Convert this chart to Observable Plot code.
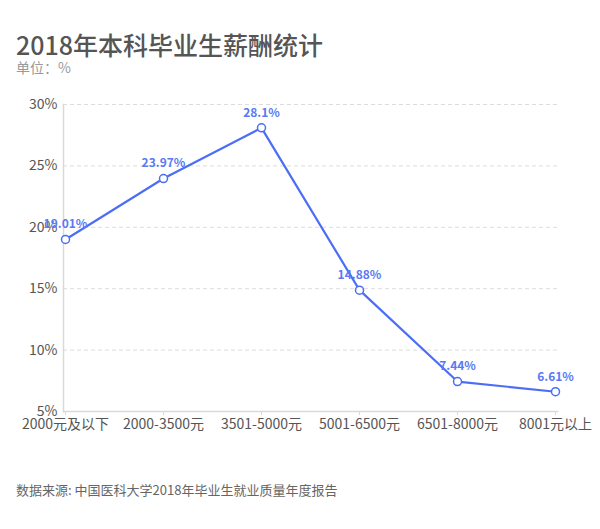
<!DOCTYPE html>
<html>
<head>
<meta charset="utf-8">
<script src="https://cdn.jsdelivr.net/npm/d3@7"></script>
<script src="https://cdn.jsdelivr.net/npm/@observablehq/plot@0.6"></script>
<style>
  html, body { margin: 0; padding: 0; background: #fff; }
  body { width: 600px; height: 529px; position: relative; font-family: "Noto Sans CJK SC", "Noto Sans", sans-serif; overflow: hidden; }
  #header { position: relative; height: 84px; }
  #title { position: absolute; left: 16px; top: 32px; font-size: 25px; line-height: 24px; font-weight: 500; color: #555; white-space: nowrap; }
  #subtitle { position: absolute; left: 16px; top: 60px; font-size: 14px; line-height: 15px; color: #999; white-space: nowrap; }
  #caption { position: absolute; left: 16px; top: 481px; font-size: 13px; line-height: 18px; color: #666; white-space: nowrap; }
  svg { display: block; }
</style>
</head>
<body>
<div id="header">
  <div id="title">2018年本科毕业生薪酬统计</div>
  <div id="subtitle">单位：%</div>
</div>
<div id="chart"></div>
<div id="caption">数据来源: 中国医科大学2018年毕业生就业质量年度报告</div>
<script>
const categories = ["2000元及以下", "2000-3500元", "3501-5000元", "5001-6500元", "6501-8000元", "8001元以上"];
const values = [19.01, 23.97, 28.1, 14.88, 7.44, 6.61];
const labels = ["19.01%", "23.97%", "28.1%", "14.88%", "7.44%", "6.61%"];
const yTicks = [5, 10, 15, 20, 25, 30];

const data = categories.map((c, i) => ({ category: c, value: values[i], label: labels[i] }));
const blue = "#4c6ef5";

const chart = Plot.plot({
  width: 600,
  height: 360,
  marginTop: 20,
  marginBottom: 33,
  marginLeft: 63,
  marginRight: 43,
  style: { fontFamily: "'Noto Sans CJK SC', 'Noto Sans', sans-serif", background: "#fff" },
  x: { type: "point", domain: categories, padding: 0 },
  y: { domain: [5, 30] },
  marks: [
    Plot.gridY(yTicks.filter(d => d > 5), { stroke: "#dcdcdc", strokeOpacity: 1, strokeDasharray: "4,3" }),
    Plot.frame({ anchor: "left", stroke: "#d9d9d9", strokeWidth: 1.5 }),
    Plot.frame({ anchor: "bottom", stroke: "#d9d9d9", strokeWidth: 1.5 }),
    Plot.axisY(yTicks, { tickSize: 0, tickPadding: 6, fontSize: 14, fill: "#555", tickFormat: d => d + "%", label: null }),
    Plot.axisX({ tickSize: 4, stroke: "#d9d9d9", tickPadding: 4, fontSize: 14, fill: "#555", label: null }),
    Plot.line(data, { x: "category", y: "value", stroke: blue, strokeWidth: 2.2 }),
    Plot.dot(data, { x: "category", y: "value", r: 4, fill: "#fff", stroke: blue, strokeWidth: 1.5 }),
    Plot.text(data, { x: "category", y: "value", text: "label", dy: -15, fill: "#5a79f4", fontSize: 12, fontWeight: "bold" })
  ]
});
document.getElementById("chart").appendChild(chart);
</script>
</body>
</html>
